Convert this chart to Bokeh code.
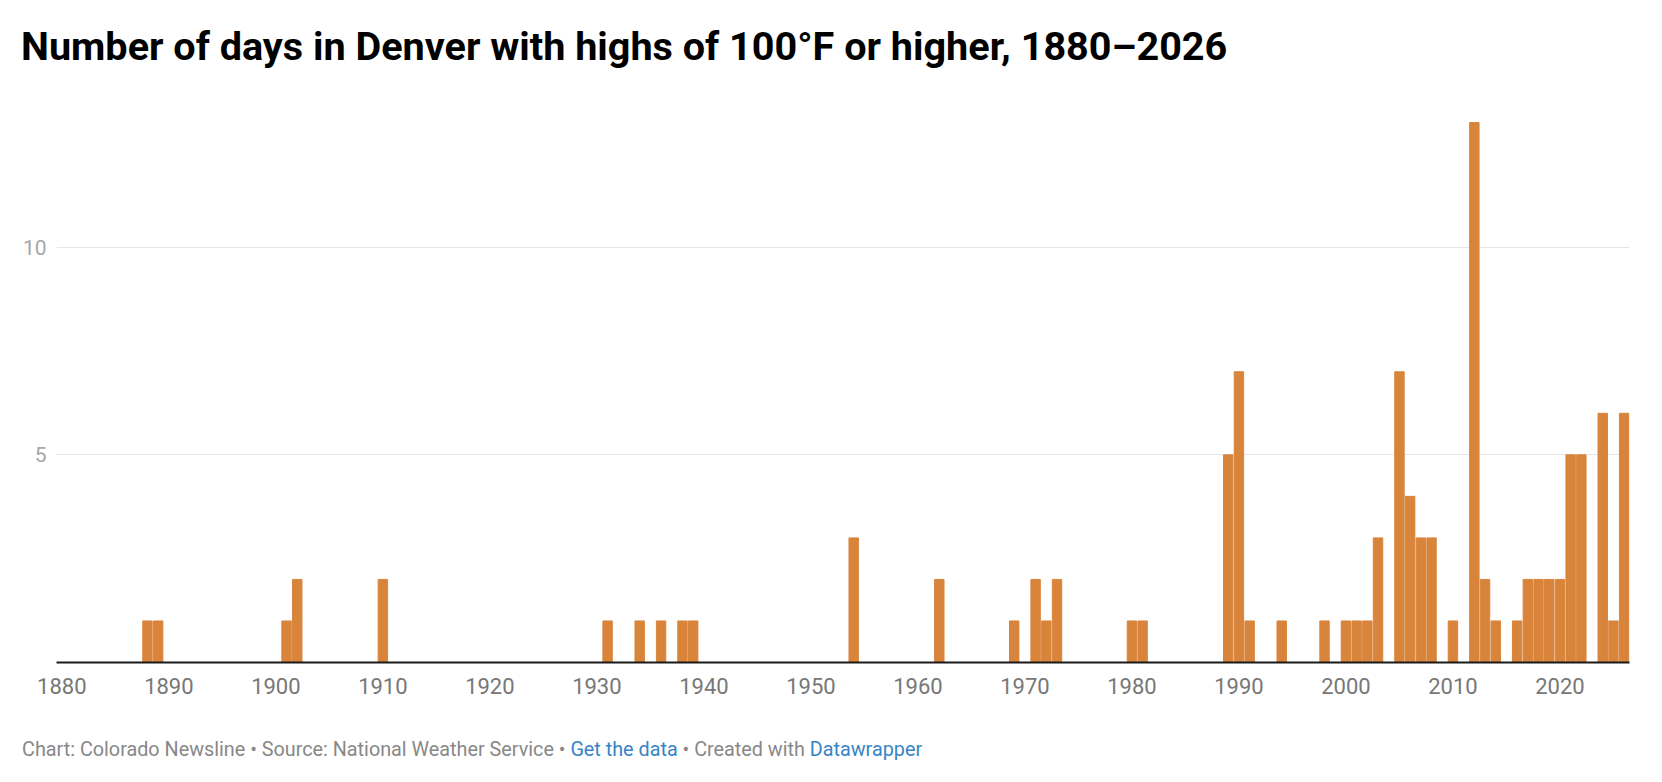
from bokeh.models import Div, Range1d, FixedTicker
from bokeh.plotting import figure
from bokeh.layouts import column
from bokeh.embed import file_html
from bokeh.resources import INLINE

# years with at least one 100°F day (all other years are zero)
years = [1888, 1889, 1901, 1902, 1910, 1931, 1934, 1936, 1938, 1939,
         1954, 1962, 1969, 1971, 1972, 1973, 1980, 1981, 1989, 1990,
         1991, 1994, 1998, 2000, 2001, 2002, 2003, 2005, 2006, 2007,
         2008, 2010, 2012, 2013, 2014, 2016, 2017, 2018, 2019, 2020,
         2021, 2022, 2024, 2025, 2026]
days = [1, 1, 1, 2, 2, 1, 1, 1, 1, 1,
        3, 2, 1, 2, 1, 2, 1, 1, 5, 7,
        1, 1, 1, 1, 1, 1, 3, 7, 4, 3,
        3, 1, 13, 2, 1, 1, 2, 2, 2, 2,
        5, 5, 6, 1, 6]
x_ticks = list(range(1880, 2021, 10))
y_ticks = [5, 10]

title = "Number of days in Denver with highs of 100°F or higher, 1880–2026"

W = 1650

title_div = Div(
    text=f"<div style='font-family: Roboto; font-weight: 700; font-size: 39.6px; "
         f"line-height: 48px; color: #000; padding: 23px 0 0 21px; white-space: nowrap;'>{title}</div>",
    width=W, height=78, margin=0)

p = figure(width=W, height=640, output_backend="svg", toolbar_location=None, tools="",
           x_range=Range1d(1879.5, 2026.5), y_range=Range1d(0, 13.58),
           min_border_left=56, min_border_right=21, min_border_top=20, min_border_bottom=56,
           margin=0)
p.vbar(x=years, top=days, width=0.88, color="#d9843b")

p.outline_line_color = None
p.xgrid.visible = False
p.ygrid.ticker = FixedTicker(ticks=y_ticks)
p.ygrid.grid_line_color = "#e6e6e6"
p.ygrid.grid_line_width = 1

p.yaxis.ticker = FixedTicker(ticks=y_ticks)
p.yaxis.axis_line_color = None
p.yaxis.major_tick_line_color = None
p.yaxis.minor_tick_line_color = None
p.yaxis.major_label_text_font = "Roboto"
p.yaxis.major_label_text_font_size = "21px"
p.yaxis.major_label_text_color = "#a6a6a6"
p.yaxis.major_label_standoff = 4

p.xaxis.ticker = FixedTicker(ticks=x_ticks)
p.xaxis.axis_line_color = "#1a1a1a"
p.xaxis.axis_line_width = 2
p.xaxis.major_tick_line_color = None
p.xaxis.minor_tick_line_color = None
p.xaxis.major_label_text_font = "Roboto"
p.xaxis.major_label_text_font_size = "22px"
p.xaxis.major_label_text_color = "#777777"
p.xaxis.major_label_standoff = 9

link = "color: #3784c6;"
footer_div = Div(
    text="<div style='font-family: Roboto; font-size: 19.8px; line-height: 24px; color: #888888; "
         "padding: 20px 0 0 22px; white-space: nowrap;'>"
         "Chart: Colorado Newsline • Source: National Weather Service • "
         f"<span style='{link}'>Get the data</span> • Created with "
         f"<span style='{link}'>Datawrapper</span></div>",
    width=W, height=56, margin=0)

layout = column(title_div, p, footer_div, spacing=0)

open("out.html", "w").write(file_html(layout, INLINE))
